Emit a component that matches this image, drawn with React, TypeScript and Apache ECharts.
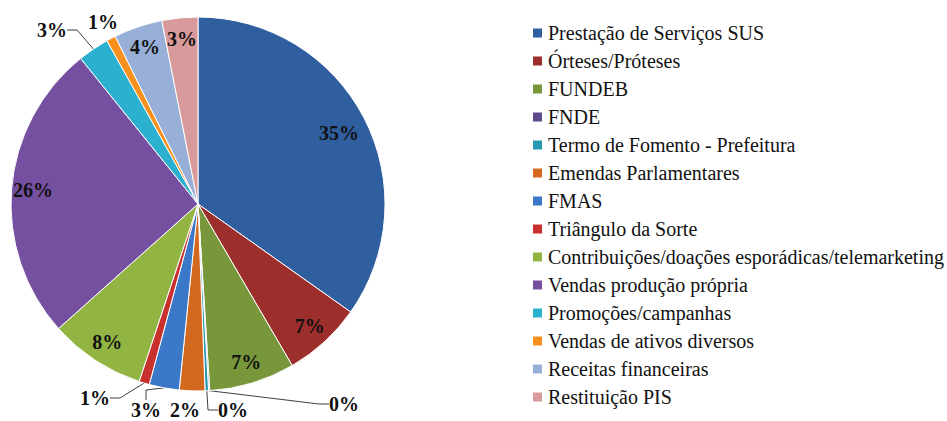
import React, { useEffect, useRef } from "react";
import * as echarts from "echarts";

const categories = [
  "Prestação de Serviços SUS",
  "Órteses/Próteses",
  "FUNDEB",
  "FNDE",
  "Termo de Fomento - Prefeitura",
  "Emendas Parlamentares",
  "FMAS",
  "Triângulo da Sorte",
  "Contribuições/doações esporádicas/telemarketing",
  "Vendas produção própria",
  "Promoções/campanhas",
  "Vendas de ativos diversos",
  "Receitas financeiras",
  "Restituição PIS",
];

const values = [34.8, 6.8, 7.4, 0.1, 0.3, 2.2, 2.6, 0.9, 8.3, 25.8, 2.7, 0.8, 4.2, 3.1];

const colors = [
  "#2F5F9F",
  "#9C2E2C",
  "#78963A",
  "#5E4A8A",
  "#2A9AB2",
  "#D2691E",
  "#3B78C8",
  "#C8302E",
  "#92B443",
  "#7550A0",
  "#2BB0CF",
  "#F7901E",
  "#98B0D8",
  "#D89A9A",
];

// indices whose label sits inside the slice
const insideIdx = [0, 1, 2, 8, 9, 12, 13];
// indices whose outside label has no leader line
const noLineIdx = [5, 11];
// positions of outside labels (label placement, not marks)
const outsideLabelPos: Record<number, [number, number]> = {
  3: [344, 404],
  4: [233, 410],
  5: [185, 410],
  6: [146, 410],
  7: [95, 398],
  10: [52, 30],
  11: [103, 22],
};

const FONT = "Liberation Serif";
const CENTER = [198, 204];
const RADIUS = 187;

export default function App() {
  const ref = useRef<HTMLDivElement>(null);

  useEffect(() => {
    document.body.style.margin = "0";
    if (!ref.current) return;
    const chart = echarts.init(ref.current, null, { renderer: "svg" });

    const fmt = (p: any) => Math.round(p.percent) + "%";
    const labelStyle = {
      fontFamily: FONT,
      fontSize: 20,
      fontWeight: "bold" as const,
      color: "#111",
    };

    const mainData = categories.map((name, i) => {
      const outside = insideIdx.indexOf(i) < 0;
      return {
        name,
        value: values[i],
        itemStyle: { color: colors[i] },
        label: { show: outside },
        labelLine: { show: outside && noLineIdx.indexOf(i) < 0 },
      };
    });

    const ghostData = categories.map((name, i) => ({
      name,
      value: values[i],
      itemStyle: { color: "rgba(0,0,0,0)" },
      label: { show: insideIdx.indexOf(i) >= 0 },
    }));

    chart.setOption({
      animation: false,
      textStyle: { fontFamily: FONT },
      legend: {
        orient: "vertical",
        left: 526,
        top: 18,
        icon: "rect",
        itemWidth: 11,
        itemHeight: 11,
        itemGap: 8,
        selectedMode: false,
        data: categories,
        textStyle: {
          fontFamily: FONT,
          fontSize: 20,
          lineHeight: 20,
          color: "#111",
        },
      },
      series: [
        {
          type: "pie",
          center: CENTER,
          radius: RADIUS,
          startAngle: 90,
          clockwise: true,
          avoidLabelOverlap: false,
          minShowLabelAngle: 0,
          itemStyle: { borderColor: "#fff", borderWidth: 1 },
          emphasis: { disabled: true },
          label: {
            position: "outside",
            formatter: fmt,
            ...labelStyle,
          },
          labelLine: {
            length: 8,
            length2: 10,
            lineStyle: { color: "#404040", width: 1 },
          },
          labelLayout: (p: any) => {
            const pos = outsideLabelPos[p.dataIndex];
            if (!pos) return {};
            return { x: pos[0], y: pos[1], align: "center", verticalAlign: "middle" };
          },
          data: mainData,
        },
        {
          type: "pie",
          center: CENTER,
          radius: [138, RADIUS],
          startAngle: 90,
          clockwise: true,
          silent: true,
          avoidLabelOverlap: false,
          legendHoverLink: false,
          itemStyle: { borderWidth: 0 },
          emphasis: { disabled: true },
          label: {
            position: "inside",
            formatter: fmt,
            ...labelStyle,
          },
          labelLine: { show: false },
          labelLayout: (p: any) => (p.dataIndex === 0 ? { dx: -6, dy: 5 } : {}),
          data: ghostData,
        },
      ],
    });

    return () => chart.dispose();
  }, []);

  return <div ref={ref} style={{ width: 947, height: 421 }} />;
}
